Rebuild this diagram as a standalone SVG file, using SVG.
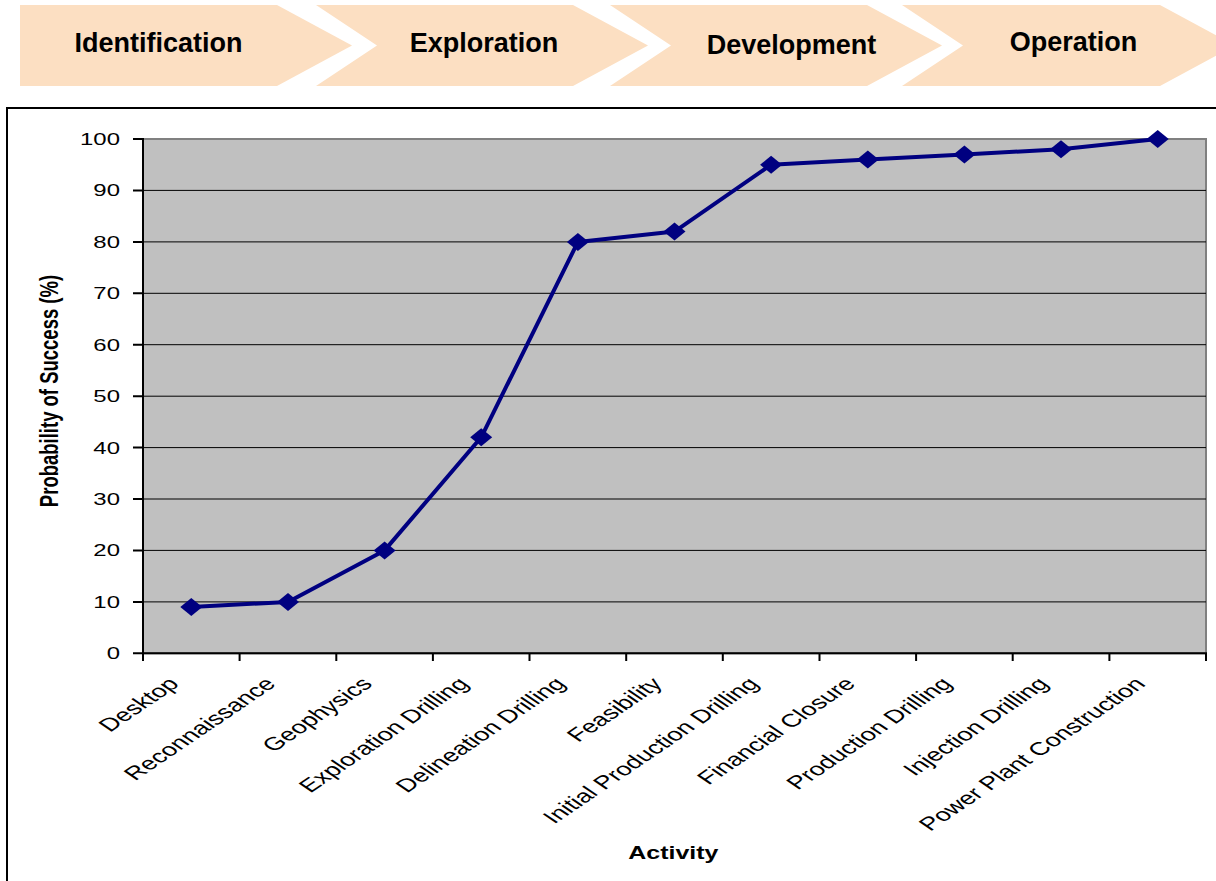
<svg xmlns="http://www.w3.org/2000/svg" width="1216" height="881" viewBox="0 0 1216 881">
<style>
.chev{fill:#FCDFC2;stroke:none}
.ban{font-family:"Liberation Sans",Arial,sans-serif;font-weight:bold;font-size:27px;fill:#000;text-anchor:middle}
.ytick{font-family:"Liberation Sans",Arial,sans-serif;font-size:16.3px;fill:#000;text-anchor:end}
.xlab{font-family:"Liberation Sans",Arial,sans-serif;font-size:18.4px;fill:#000;text-anchor:end}
.axt{font-family:"Liberation Sans",Arial,sans-serif;font-weight:bold;fill:#000;text-anchor:middle}
.grid{stroke:#000;stroke-width:1}
.tick{stroke:#000;stroke-width:2}
.series{fill:none;stroke:#000080;stroke-width:4;stroke-linejoin:round}
.mk{fill:#000080}
</style>
<defs>
<path id="dia" d="M0,-9 L11,0 L0,9 L-11,0 Z"/>
</defs>
<rect width="1216" height="881" fill="#fff"/>
<g id="phase-identification">
<polygon class="chev" points="20,5 277,5 352,45.5 277,86 20,86"/>
<text class="ban" x="158.5" y="52">Identification</text>
</g>
<g id="phase-exploration">
<polygon class="chev" points="316,5 573,5 648,45.5 573,86 316,86 377,45.5"/>
<text class="ban" x="484" y="52">Exploration</text>
</g>
<g id="phase-development">
<polygon class="chev" points="610,5 867,5 942,45.5 867,86 610,86 671,45.5"/>
<text class="ban" x="791.5" y="54">Development</text>
</g>
<g id="phase-operation">
<polygon class="chev" points="902,5 1160,5 1235,45.5 1160,86 902,86 963,45.5"/>
<text class="ban" x="1073.5" y="51">Operation</text>
</g>
<g id="chart">
<rect x="7" y="108" width="1230" height="800" fill="#fff" stroke="#000" stroke-width="2"/>
<rect x="143" y="139" width="1063" height="514.3" fill="#C0C0C0" stroke="#808080" stroke-width="2"/>
<g id="gridlines">
<line class="grid" x1="143" y1="601.9" x2="1206" y2="601.9"/>
<line class="grid" x1="143" y1="550.4" x2="1206" y2="550.4"/>
<line class="grid" x1="143" y1="499.0" x2="1206" y2="499.0"/>
<line class="grid" x1="143" y1="447.6" x2="1206" y2="447.6"/>
<line class="grid" x1="143" y1="396.2" x2="1206" y2="396.2"/>
<line class="grid" x1="143" y1="344.7" x2="1206" y2="344.7"/>
<line class="grid" x1="143" y1="293.3" x2="1206" y2="293.3"/>
<line class="grid" x1="143" y1="241.9" x2="1206" y2="241.9"/>
<line class="grid" x1="143" y1="190.4" x2="1206" y2="190.4"/>
</g>
<g id="axes">
<line class="tick" x1="143" y1="138" x2="143" y2="654.3"/>
<line class="tick" x1="142" y1="653.3" x2="1207" y2="653.3"/>
<path class="tick" d="M133,139H143M133,190.4H143M133,241.9H143M133,293.3H143M133,344.7H143M133,396.2H143M133,447.6H143M133,499H143M133,550.4H143M133,601.9H143M133,653.3H143"/>
<path class="tick" d="M143,653V661M239.6,653V661M336.3,653V661M432.9,653V661M529.5,653V661M626.2,653V661M722.8,653V661M819.5,653V661M916.1,653V661M1012.7,653V661M1109.4,653V661M1206,653V661"/>
</g>
<g id="y-labels">
<text class="ytick" transform="translate(120,145) scale(1.47,1)">100</text>
<text class="ytick" transform="translate(120,196.4) scale(1.47,1)">90</text>
<text class="ytick" transform="translate(120,247.9) scale(1.47,1)">80</text>
<text class="ytick" transform="translate(120,299.3) scale(1.47,1)">70</text>
<text class="ytick" transform="translate(120,350.7) scale(1.47,1)">60</text>
<text class="ytick" transform="translate(120,402.2) scale(1.47,1)">50</text>
<text class="ytick" transform="translate(120,453.6) scale(1.47,1)">40</text>
<text class="ytick" transform="translate(120,505) scale(1.47,1)">30</text>
<text class="ytick" transform="translate(120,556.4) scale(1.47,1)">20</text>
<text class="ytick" transform="translate(120,607.9) scale(1.47,1)">10</text>
<text class="ytick" transform="translate(120,659.3) scale(1.47,1)">0</text>
</g>
<g id="x-labels">
<text class="xlab" transform="translate(180.3,685) scale(1.475,1) rotate(-45)">Desktop</text>
<text class="xlab" transform="translate(277,685) scale(1.475,1) rotate(-45)">Reconnaissance</text>
<text class="xlab" transform="translate(373.6,685) scale(1.475,1) rotate(-45)">Geophysics</text>
<text class="xlab" transform="translate(470.2,685) scale(1.475,1) rotate(-45)">Exploration Drilling</text>
<text class="xlab" transform="translate(566.9,685) scale(1.475,1) rotate(-45)">Delineation Drilling</text>
<text class="xlab" transform="translate(663.5,685) scale(1.475,1) rotate(-45)">Feasibility</text>
<text class="xlab" transform="translate(760.1,685) scale(1.475,1) rotate(-45)">Initial Production Drilling</text>
<text class="xlab" transform="translate(856.8,685) scale(1.475,1) rotate(-45)">Financial Closure</text>
<text class="xlab" transform="translate(953.4,685) scale(1.475,1) rotate(-45)">Production Drilling</text>
<text class="xlab" transform="translate(1050,685) scale(1.475,1) rotate(-45)">Injection Drilling</text>
<text class="xlab" transform="translate(1146.7,685) scale(1.475,1) rotate(-45)">Power Plant Construction</text>
</g>
<text class="axt" font-size="18.5" transform="translate(58,391) rotate(-90) scale(1,1.35)">Probability of Success (%)</text>
<text class="axt" font-size="18.2" transform="translate(673.3,859) scale(1.37,1)">Activity</text>
</g>
<g id="connectors">
<polyline class="series" points="191.3,607 288,601.9 384.6,550.4 481.2,437.3 577.9,241.9 674.5,231.6 771.1,164.7 867.8,159.6 964.4,154.4 1061,149.3 1157.7,139"/>
</g>
<g id="markers">
<use href="#dia" class="mk" x="191.3" y="607"/>
<use href="#dia" class="mk" x="288" y="601.9"/>
<use href="#dia" class="mk" x="384.6" y="550.4"/>
<use href="#dia" class="mk" x="481.2" y="437.3"/>
<use href="#dia" class="mk" x="577.9" y="241.9"/>
<use href="#dia" class="mk" x="674.5" y="231.6"/>
<use href="#dia" class="mk" x="771.1" y="164.7"/>
<use href="#dia" class="mk" x="867.8" y="159.6"/>
<use href="#dia" class="mk" x="964.4" y="154.4"/>
<use href="#dia" class="mk" x="1061" y="149.3"/>
<use href="#dia" class="mk" x="1157.7" y="139"/>
</g>
</svg>
